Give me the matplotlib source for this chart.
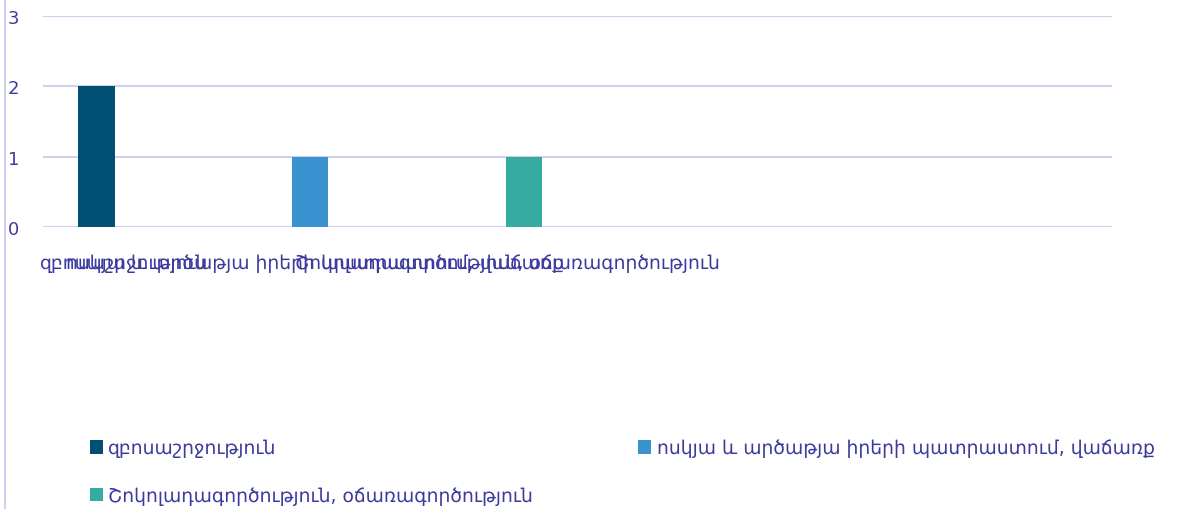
import matplotlib.pyplot as plt
from matplotlib.lines import Line2D

plt.rcParams['font.family'] = ['DejaVu Sans']

categories = ["զբոսաշրջություն",
              "ոսկյա և արծաթյա իրերի պատրաստում, վաճառք",
              "Շոկոլադագործություն, օճառագործություն"]
values = [2, 1, 1]
colors = ["#004f74", "#3a93d0", "#36aba2"]
yticks = [0, 1, 2, 3]

text_color = "#3c3a9e"
grid_color = "#d3d0ee"

fig = plt.figure(figsize=(11.86, 5.10), dpi=100)
ax = fig.add_axes([43 / 1186, 1 - 228 / 510, (1112 - 43) / 1186, (228 - 17) / 510])

bars = []
for i, (v, c) in enumerate(zip(values, colors)):
    b = ax.bar(i - 0.25, v, width=0.17, color=c, zorder=3)
    bars.append(b)

ax.set_xlim(-0.5, 4.5)
ax.set_ylim(0, 3)
ax.set_yticks(yticks)
ax.set_yticklabels([str(t) for t in yticks])
ax.tick_params(axis='y', length=0, labelsize=13, colors=text_color, pad=17)
ax.set_xticks([])
for y in yticks:
    ax.axhline(y, color=grid_color, lw=1.5, zorder=1)
for s in ax.spines.values():
    s.set_visible(False)

# overlapping category labels as in the original
label_x = [-0.12, 0.77, 1.67]
for x, name in zip(label_x, categories):
    ax.text(x, -0.5, name, ha='center', va='center', fontsize=13.5, color=text_color)

# left border line of chart area
fig.add_artist(Line2D([5 / 1186, 5 / 1186], [0, 1], color=grid_color, lw=1.5))

order = [0, 2, 1]
leg = fig.legend([bars[i] for i in order], [categories[i] for i in order],
                 loc='upper left', bbox_to_anchor=(82 / 1186, 1 - 432 / 510),
                 ncol=2, frameon=False, fontsize=13.5,
                 handlelength=0.7, handleheight=0.7, handletextpad=0.3,
                 columnspacing=5.6, labelspacing=1.5, borderaxespad=0)
for t in leg.get_texts():
    t.set_color(text_color)

fig.savefig("out.png", dpi=100)
